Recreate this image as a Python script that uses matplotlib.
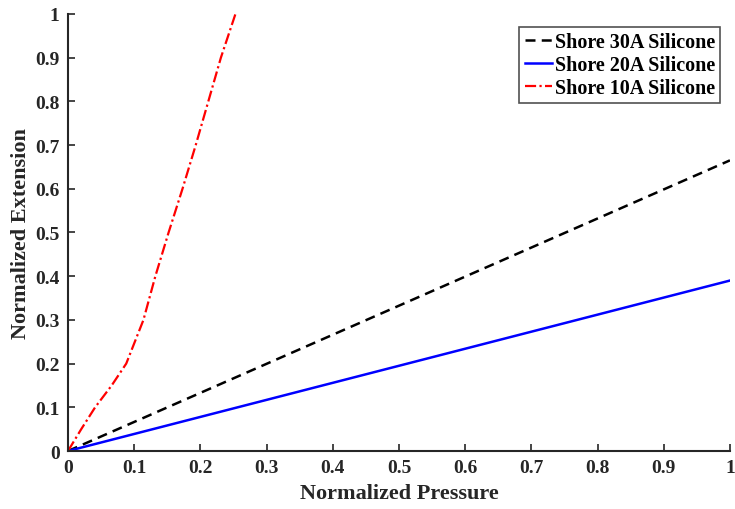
import matplotlib
matplotlib.use("Agg")
import matplotlib.pyplot as plt
import numpy as np

# normalized pressure vs. normalized extension for three silicone hardnesses
p_30a = [0.0, 1.0]
e_30a = [0.0, 0.665]

p_20a = [0.0, 1.0]
e_20a = [0.0, 0.39]

p_10a = [0.0, 0.020, 0.041, 0.066, 0.088, 0.101, 0.114, 0.132, 0.152, 0.173, 0.193, 0.212, 0.231, 0.253]
e_10a = [0.0, 0.050, 0.100, 0.150, 0.200, 0.250, 0.300, 0.400, 0.500, 0.600, 0.700, 0.800, 0.900, 1.0]

plt.rcParams['font.family'] = ['Liberation Serif', 'DejaVu Serif']
plt.rcParams['font.weight'] = 'bold'

fig = plt.figure(figsize=(7.35, 5.1), dpi=100)
ax = fig.add_axes([0.0925, 0.1137, 0.9006, 0.857])

ax.plot(p_30a, e_30a, color='black', linestyle=(0, (4, 2.5)), linewidth=1.8, label='Shore 30A Silicone')
ax.plot(p_20a, e_20a, color='blue', linestyle='-', linewidth=1.8, label='Shore 20A Silicone')
ax.plot(p_10a, e_10a, color='red', linestyle=(0, (5, 1.5, 1, 1.5)), linewidth=1.6, label='Shore 10A Silicone')

ax.set_xlim(0, 1)
ax.set_ylim(0, 1)
ticks = np.arange(0, 1.01, 0.1)
tick_labels = ['0', '0.1', '0.2', '0.3', '0.4', '0.5', '0.6', '0.7', '0.8', '0.9', '1']
ax.set_xticks(ticks)
ax.set_yticks(ticks)
ax.set_xticklabels(tick_labels)
ax.set_yticklabels(tick_labels)

for side in ['top', 'right']:
    ax.spines[side].set_visible(False)
for side in ['left', 'bottom']:
    ax.spines[side].set_color('#262626')
    ax.spines[side].set_linewidth(1.5)

ax.tick_params(direction='in', length=5, width=1.2, colors='#262626', labelsize=14, pad=6)
for lab in ax.get_xticklabels() + ax.get_yticklabels():
    lab.set_fontweight('bold')

ax.set_xlabel('Normalized Pressure', fontsize=16, fontweight='bold', color='#262626', labelpad=5)
ax.set_ylabel('Normalized Extension', fontsize=16, fontweight='bold', color='#262626', labelpad=3)

leg = ax.legend(loc='upper right', bbox_to_anchor=(0.985, 0.97), frameon=True, fancybox=False,
                edgecolor='#262626', handlelength=1.35, handletextpad=0.15, borderpad=0.25, labelspacing=0.15,
                borderaxespad=0.0, prop={'weight': 'bold', 'size': 14.5})
leg.get_frame().set_linewidth(1.2)

fig.savefig('out.png', dpi=100)
